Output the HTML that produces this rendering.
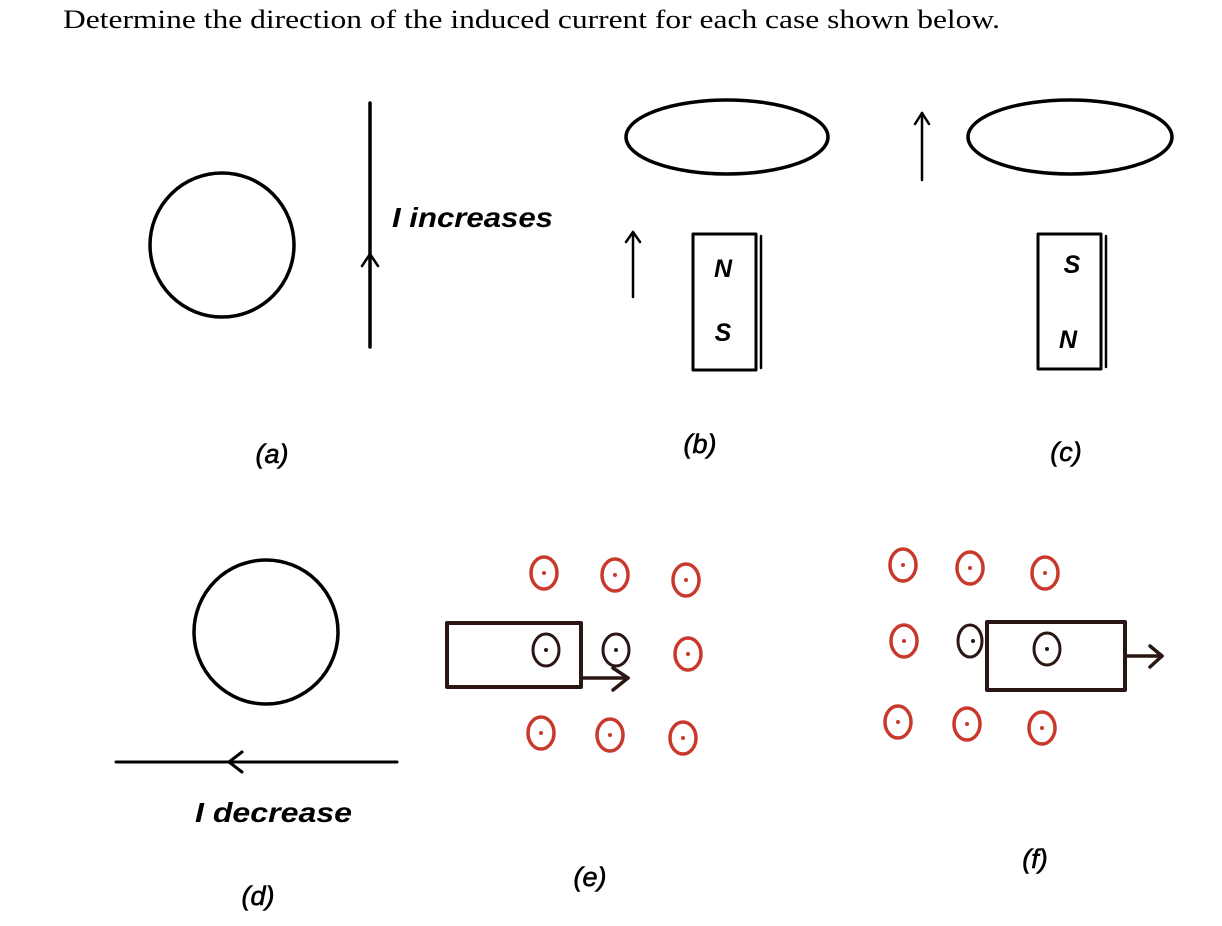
<!DOCTYPE html>
<html><head><style>body{margin:0;background:#fff}svg{display:block}</style></head>
<body>
<svg width="1222" height="926" viewBox="0 0 1222 926" xmlns="http://www.w3.org/2000/svg">
<text x="63" y="28" font-family="Liberation Serif, serif" font-size="26" textLength="937" lengthAdjust="spacingAndGlyphs">Determine the direction of the induced current for each case shown below.</text>
<g fill="none" stroke="#000" stroke-width="3.5" stroke-linecap="round" stroke-linejoin="round">
<circle cx="222" cy="245" r="72"/>
<line x1="370" y1="103" x2="370" y2="347"/>
<polyline points="362,266 370,254 378,266" stroke-width="2.5"/>
<ellipse cx="727" cy="137" rx="101" ry="37"/>
<line x1="633" y1="297" x2="633" y2="232" stroke-width="2.5"/>
<polyline points="626,242 633,232 640,242" stroke-width="2.5"/>
<rect x="693" y="234" width="63" height="136" stroke-width="3"/>
<line x1="761" y1="236" x2="761" y2="368" stroke-width="2.5"/>
<line x1="922" y1="180" x2="922" y2="113" stroke-width="2.5"/>
<polyline points="915,124 922,113 929,124" stroke-width="2.5"/>
<ellipse cx="1070" cy="137" rx="102" ry="37"/>
<rect x="1038" y="234" width="63" height="135" stroke-width="3"/>
<line x1="1106" y1="236" x2="1106" y2="367" stroke-width="2.5"/>
<circle cx="266" cy="632" r="72"/>
<line x1="116" y1="762" x2="397" y2="762" stroke-width="3"/>
<polyline points="242,752 229,762 242,772" stroke-width="3"/>
</g>
<g font-family="Liberation Sans, sans-serif" font-style="italic" font-weight="bold" text-anchor="start">
<text x="392" y="227" font-size="28" textLength="161" lengthAdjust="spacingAndGlyphs">I increases</text>
<text x="195" y="822" font-size="28" textLength="157" lengthAdjust="spacingAndGlyphs">I decrease</text>
</g>
<g font-family="Liberation Sans, sans-serif" font-style="italic" font-weight="bold" text-anchor="middle">
<text x="723" y="277" font-size="25">N</text>
<text x="723" y="341" font-size="25">S</text>
<text x="1072" y="273" font-size="25">S</text>
<text x="1068" y="348" font-size="25">N</text>
</g>
<g font-family="Liberation Sans, sans-serif" font-style="italic" font-size="27" text-anchor="middle" stroke="#000" stroke-width="0.6">
<text x="272" y="463">(a)</text>
<text x="700" y="453">(b)</text>
<text x="1066" y="461">(c)</text>
<text x="258" y="905">(d)</text>
<text x="590" y="886">(e)</text>
<text x="1035" y="868">(f)</text>
</g>
<g fill="none" stroke="#c8392b" stroke-width="3.5">
<ellipse cx="544" cy="573" rx="13" ry="16"/>
<ellipse cx="615" cy="575" rx="13" ry="16"/>
<ellipse cx="686" cy="580" rx="13" ry="16"/>
<ellipse cx="688" cy="654" rx="13" ry="16"/>
<ellipse cx="541" cy="733" rx="13" ry="16"/>
<ellipse cx="610" cy="735" rx="13" ry="16"/>
<ellipse cx="683" cy="738" rx="13" ry="16"/>
<ellipse cx="903" cy="565" rx="13" ry="16"/>
<ellipse cx="970" cy="568" rx="13" ry="16"/>
<ellipse cx="1045" cy="573" rx="13" ry="16"/>
<ellipse cx="904" cy="641" rx="13" ry="16"/>
<ellipse cx="898" cy="722" rx="13" ry="16"/>
<ellipse cx="967" cy="724" rx="13" ry="16"/>
<ellipse cx="1042" cy="728" rx="13" ry="16"/>
</g>
<g fill="#c8392b">
<circle cx="544" cy="573" r="2"/><circle cx="615" cy="575" r="2"/><circle cx="686" cy="580" r="2"/>
<circle cx="688" cy="654" r="2"/><circle cx="541" cy="733" r="2"/><circle cx="610" cy="735" r="2"/>
<circle cx="683" cy="738" r="2"/><circle cx="903" cy="565" r="2"/><circle cx="970" cy="568" r="2"/>
<circle cx="1045" cy="573" r="2"/><circle cx="904" cy="641" r="2"/><circle cx="898" cy="722" r="2"/>
<circle cx="967" cy="724" r="2"/><circle cx="1042" cy="728" r="2"/>
</g>
<g fill="none" stroke="#2a1612" stroke-width="4" stroke-linejoin="round" stroke-linecap="round">
<rect x="447" y="623" width="134" height="64"/>
<ellipse cx="546" cy="650" rx="13" ry="16" stroke-width="3"/>
<ellipse cx="616" cy="650" rx="13" ry="16" stroke-width="3"/>
<line x1="581" y1="678" x2="628" y2="678" stroke-width="3.5"/>
<polyline points="613,668 628,678 613,690" stroke-width="3.5"/>
<rect x="987" y="622" width="138" height="68"/>
<ellipse cx="970" cy="641" rx="12" ry="16" stroke-width="3"/>
<ellipse cx="1047" cy="649" rx="13" ry="16" stroke-width="3"/>
<line x1="1125" y1="656" x2="1162" y2="656" stroke-width="3.5"/>
<polyline points="1150,646 1162,656 1150,667" stroke-width="3.5"/>
</g>
<g fill="#2a1612">
<circle cx="546" cy="650" r="2"/><circle cx="616" cy="650" r="2"/><circle cx="973" cy="641" r="2"/><circle cx="1047" cy="649" r="2"/>
</g>
</svg>
</body></html>
